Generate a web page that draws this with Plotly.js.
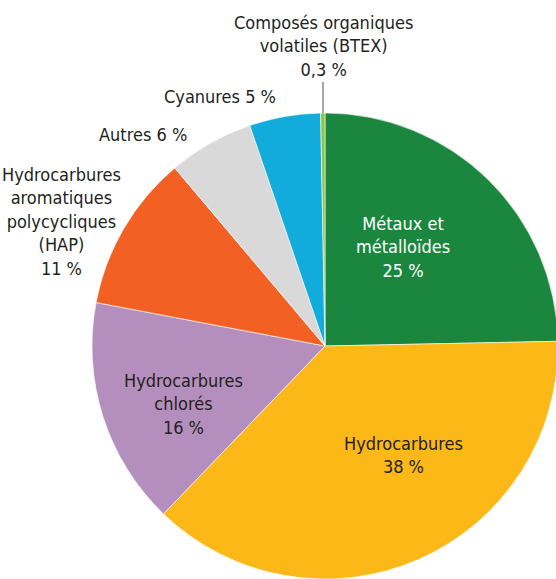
<!DOCTYPE html>
<html><head><meta charset="utf-8">
<script src="https://cdn.plot.ly/plotly-3.0.1.min.js"></script>
<style>html,body{margin:0;padding:0;overflow:hidden;background:#fff;}#chart{width:560px;height:579px;}</style>
</head><body><div id="chart"></div>
<script>
const labels = ["Métaux et<br>métalloïdes", "Hydrocarbures", "Hydrocarbures<br>chlorés", "Hydrocarbures<br>aromatiques<br>polycycliques<br>(HAP)", "Autres", "Cyanures", "Composés organiques<br>volatiles (BTEX)"];
const values = [25, 38, 16, 11, 6, 5, 0.3];
const valueText = ["25 %", "38 %", "16 %", "11 %", "6 %", "5 %", "0,3 %"];
const colors = ["#1b873e", "#fbb817", "#b48fbe", "#f26024", "#d9d9d9", "#11acdc", "#8dc63f"];
// label layout (pixel positions of text centres) and joiner between name and value
const labelPos = [[403,247,"white"],[403,455,"#231f20"],[183,404,"#231f20"],[61,222,"#231f20"],[143,135,"#231f20"],[220,96,"#231f20"],[323,46,"#231f20"]];
const joiner = ["<br>","<br>","<br>","<br>"," "," ","<br>"];

const L=92, T=113, S=466, H=579;
const annotations = labels.map((lab,i)=>({
  xref:"paper", yref:"paper",
  x:(labelPos[i][0]-L)/S, y:(H-labelPos[i][1])/S,
  xanchor:"center", yanchor:"middle", align:"center", showarrow:false,
  text: lab + joiner[i] + valueText[i],
  font:{family:"Liberation Sans Narrow, DejaVu Sans Condensed, sans-serif", size:18, color:labelPos[i][2]}
}));
const shapes = [{type:"line", xref:"paper", yref:"paper", x0:(323-L)/S, x1:(323-L)/S, y0:(H-113)/S, y1:(H-82)/S, line:{color:"#6d6e71", width:1.2}}];

Plotly.newPlot("chart", [{
  type:"pie", labels:labels, values:values, sort:false, direction:"clockwise", rotation:0,
  marker:{colors:colors, line:{color:"#ffffff", width:0.6}},
  textinfo:"none", hoverinfo:"label+percent", showlegend:false
}], {
  width:560, height:579, margin:{l:L, r:2, t:T, b:0},
  paper_bgcolor:"#fff", showlegend:false, annotations:annotations, shapes:shapes
}, {displayModeBar:false, staticPlot:true});
</script></body></html>
